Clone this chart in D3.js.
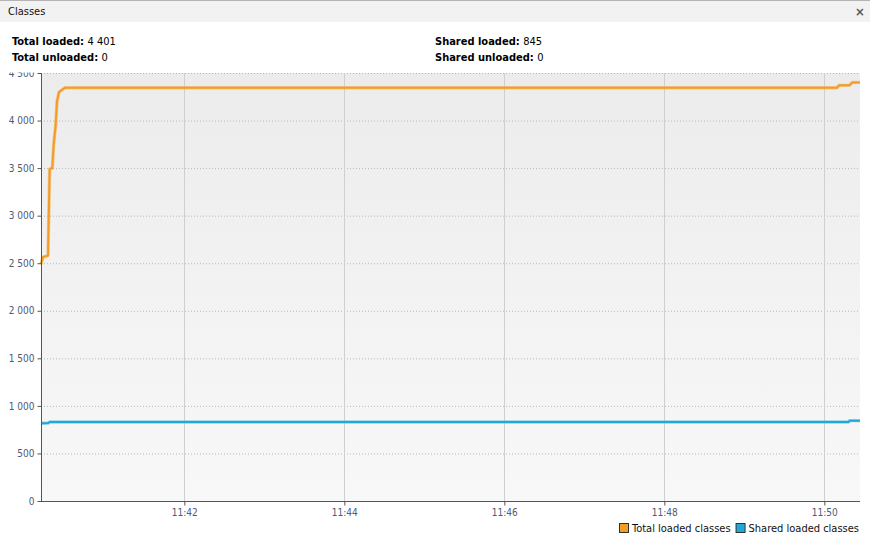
<!DOCTYPE html>
<html><head><meta charset="utf-8">
<script src="https://cdn.jsdelivr.net/npm/d3@7"></script>
<style>
html,body{margin:0;padding:0;background:#fff;}
svg{display:block;font-family:"DejaVu Sans Condensed","DejaVu Sans",sans-serif;}
</style></head>
<body>
<svg id="c" width="870" height="541"></svg>
<script>
// ---- data ----
const panelTitle = "Classes";
const infoLabels = ["Total loaded:", "Total unloaded:", "Shared loaded:", "Shared unloaded:"];
const infoValues = [4401, 0, 845, 0];
const seriesNames = ["Total loaded classes", "Shared loaded classes"];
const seriesColors = ["#f39c26", "#1fa8d8"];
const totalTimes = ["11:40:12.5","11:40:14","11:40:17.75","11:40:19","11:40:21","11:40:22","11:40:23.5","11:40:24.5","11:40:26","11:40:30.5","11:50:09.5","11:50:11","11:50:19","11:50:21","11:50:26.75"];
const totalValues = [2490, 2565, 2580, 3490, 3500, 3750, 3950, 4200, 4300, 4345, 4345, 4370, 4372, 4401, 4401];
const sharedTimes = ["11:40:12.5","11:40:18","11:40:19","11:50:18","11:50:19","11:50:26.75"];
const sharedValues = [818, 820, 830, 830, 845, 845];
const timeDomain = ["11:40:12.5", "11:50:26.75"];
const yTicks = [0, 500, 1000, 1500, 2000, 2500, 3000, 3500, 4000, 4500];
const yMax = 4500;

// ---- helpers ----
function parseT(s){
  const p = s.split(":");
  const sec = parseFloat(p[2]);
  return new Date(2020,0,1,+p[0],+p[1],Math.floor(sec),Math.round((sec-Math.floor(sec))*1000));
}
const loc = d3.formatLocale({decimal:".", thousands:" ", grouping:[3], currency:["",""]});
const fmt = loc.format(",");

const svg = d3.select("#c");
const W = 870, H = 541;
const m = {left:41, right:860, top:73, bottom:501};
const FONT = "DejaVu Sans Condensed, DejaVu Sans, sans-serif";

const x = d3.scaleTime().domain(timeDomain.map(parseT)).range([m.left, m.right]);
const y = d3.scaleLinear().domain([0, yMax]).range([m.bottom, m.top]);

// background gradient
const defs = svg.append("defs");
const g = defs.append("linearGradient").attr("id","bg").attr("x1",0).attr("y1",0).attr("x2",0).attr("y2",1);
g.append("stop").attr("offset","0%").attr("stop-color","#ececec");
g.append("stop").attr("offset","100%").attr("stop-color","#f8f8f8");

svg.append("rect").attr("x",m.left).attr("y",m.top).attr("width",m.right-m.left).attr("height",m.bottom-m.top).attr("fill","url(#bg)");

// horizontal dotted grid
svg.append("g").selectAll("line").data(yTicks.filter(d=>d>0)).join("line")
  .attr("x1",m.left).attr("x2",m.right)
  .attr("y1",d=>y(d)+0.5).attr("y2",d=>y(d)+0.5)
  .attr("stroke","#b8b8b8").attr("stroke-dasharray","1,2");

// vertical grid
const xTicks = x.ticks(d3.timeMinute.every(2));
svg.append("g").selectAll("line").data(xTicks).join("line")
  .attr("x1",d=>Math.round(x(d))+0.5).attr("x2",d=>Math.round(x(d))+0.5)
  .attr("y1",m.top).attr("y2",m.bottom)
  .attr("stroke","#cfcfcf");

// lines
const line = d3.line().x(d=>x(d[0])).y(d=>y(d[1]));
const totalData = totalTimes.map((t,i)=>[parseT(t), totalValues[i]]);
const sharedData = sharedTimes.map((t,i)=>[parseT(t), sharedValues[i]]);
[totalData, sharedData].forEach((d,i)=>{
  svg.append("path").datum(d).attr("d",line).attr("fill","none")
    .attr("stroke",seriesColors[i]).attr("stroke-opacity",0.45).attr("stroke-width",3.4).attr("stroke-linejoin","round");
  svg.append("path").datum(d).attr("d",line).attr("fill","none")
    .attr("stroke",seriesColors[i]).attr("stroke-width",2).attr("stroke-linejoin","round");
});

// y axis
const yAxis = svg.append("g").attr("transform",`translate(${m.left+0.5},0)`)
  .call(d3.axisLeft(y).tickValues(yTicks).tickFormat(fmt).tickSize(4).tickPadding(3));
yAxis.select(".domain").attr("stroke","#555").attr("d",`M0,${m.top}V${m.bottom}`);
yAxis.selectAll(".tick line").attr("stroke","#555");
yAxis.selectAll(".tick text").attr("fill","#4c5a78").attr("font-size","10px").attr("font-family",FONT);

// x axis
const xAxis = svg.append("g").attr("transform",`translate(0,${m.bottom+0.5})`)
  .call(d3.axisBottom(x).ticks(d3.timeMinute.every(2)).tickFormat(d3.timeFormat("%H:%M")).tickSize(4).tickPadding(3));
xAxis.select(".domain").attr("stroke","#555").attr("d",`M${m.left},0H${m.right}`);
xAxis.selectAll(".tick line").attr("stroke","#555");
xAxis.selectAll(".tick text").attr("fill","#4c5a78").attr("font-size","10px").attr("font-family",FONT);

// cover above plot (info area)
svg.append("rect").attr("x",0).attr("y",0).attr("width",W).attr("height",m.top-0.5).attr("fill","#fff");

// header bar
svg.append("rect").attr("x",0).attr("y",0).attr("width",W).attr("height",22).attr("fill","#f2f2f2");
svg.append("line").attr("x1",0).attr("x2",W).attr("y1",0.5).attr("y2",0.5).attr("stroke","#b4b4b4");
svg.append("text").attr("x",8).attr("y",15).attr("font-size","11px").attr("fill","#111").text(panelTitle);
svg.append("text").attr("x",860).attr("y",16).attr("font-size","13px").attr("font-weight","bold").attr("fill","#555").attr("text-anchor","middle").text("×");

// info texts
const infoPos = [[12,45],[12,61],[435,45],[435,61]];
infoLabels.forEach((lab,i)=>{
  const t = svg.append("text").attr("x",infoPos[i][0]).attr("y",infoPos[i][1]).attr("font-size","11px").attr("fill","#000");
  t.append("tspan").attr("font-weight","bold").text(lab+" ");
  t.append("tspan").text(fmt(infoValues[i]));
});

// legend, laid out from the right edge
let rightEdge = 859;
for (let i = seriesNames.length - 1; i >= 0; i--) {
  const t = svg.append("text").attr("x",rightEdge).attr("y",532).attr("text-anchor","end")
    .attr("font-size","11px").attr("fill","#111").text(seriesNames[i]);
  const w = t.node().getComputedTextLength();
  const sx = rightEdge - w - 13;
  svg.append("rect").attr("x",sx+0.5).attr("y",523.5).attr("width",9).attr("height",9)
    .attr("fill",seriesColors[i]).attr("stroke","#333");
  rightEdge = sx - 5;
}
</script>
</body></html>
